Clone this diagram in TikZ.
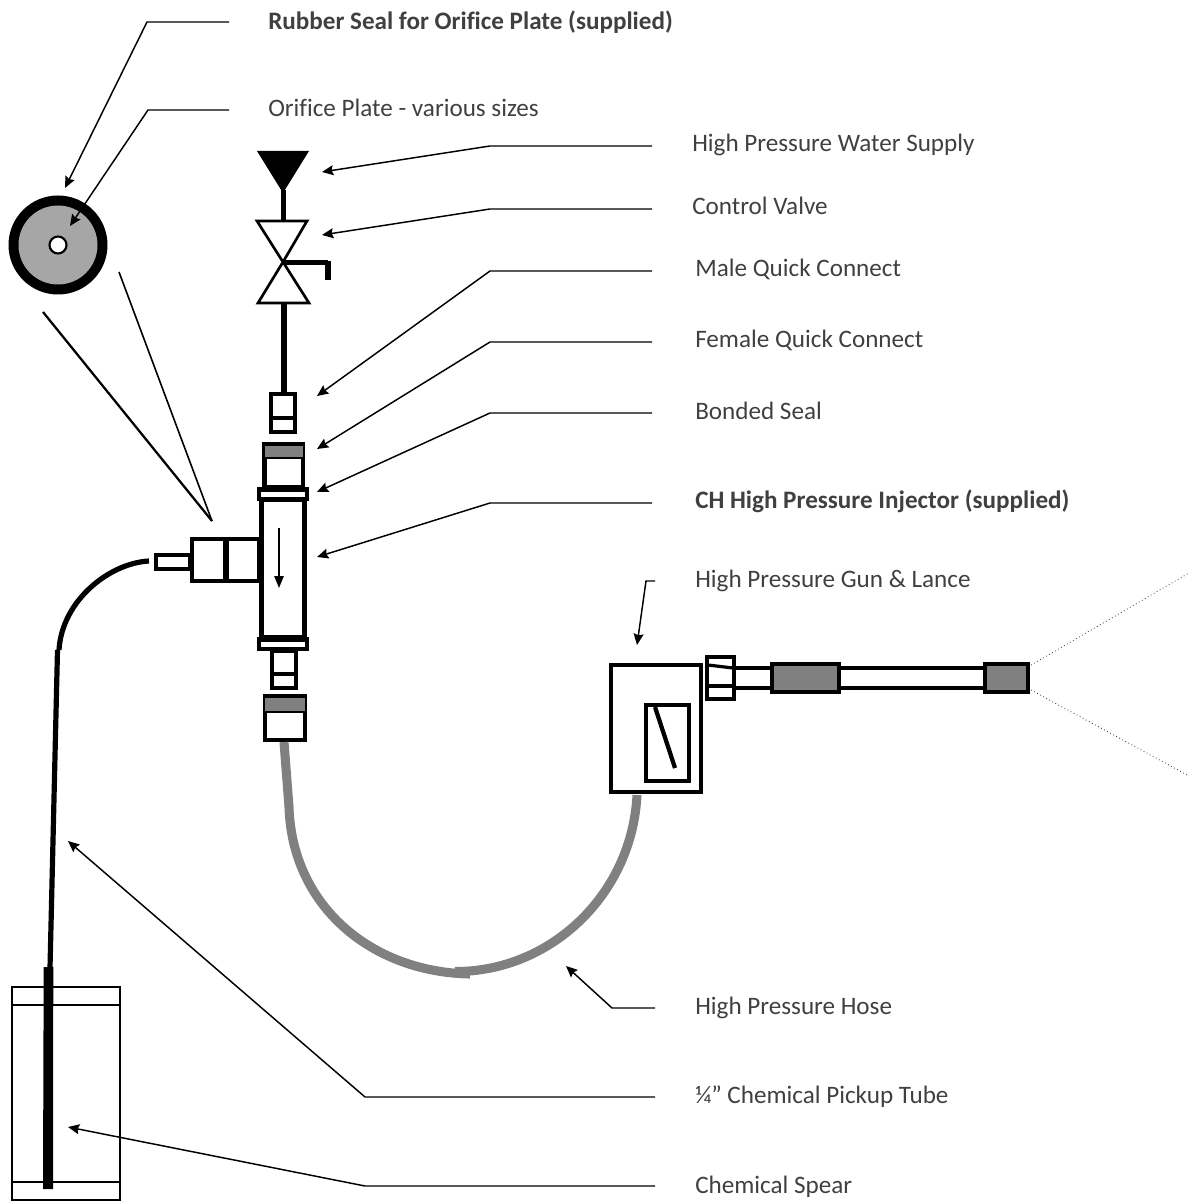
\documentclass[tikz,border=0pt]{standalone}
\usepackage{fontspec}
\usepackage{xcolor}
\setmainfont[Ligatures=NoCommon]{Carlito}
\usetikzlibrary{arrows.meta, positioning, calc}
\definecolor{lblgray}{HTML}{404040}
\definecolor{partgray}{HTML}{808080}
\definecolor{discgray}{HTML}{A6A6A6}
\tikzset{
  leader/.style={line width=1.1pt, -{Stealth[length=8.5pt, width=7.5pt, inset=1.2pt]}},
  lbl/.style={anchor=base west, inner sep=0pt, text=lblgray, font=\fontsize{18.85}{22}\selectfont},
  part/.style={draw=black, line width=3.4pt, fill=white, line join=miter},
  sleeve/.style={draw=black, line width=3.3pt, fill=partgray},
  hose/.style={draw=partgray, line width=6.8pt},
  tube/.style={draw=black, line width=3.9pt},
}
\begin{document}
\begin{tikzpicture}[x=0.75pt, y=-0.75pt]
  \useasboundingbox (0,0) rectangle (1189,1201);
  % Orifice plate
  \fill[black] (58,245) circle (49.5);
  \fill[discgray] (58,245) circle (39.5);
  \draw[fill=white, line width=1.6pt] (58,245) circle (8.5);
  \draw[line width=1.7pt] (43,312) -- (212,521);
  \draw[line width=1.2pt] (119,272) -- (212,521);
  % Water supply and valve
  \fill[black] (257,151) -- (309,151) -- (283,193) -- cycle;
  \draw[line width=3.9pt] (283.5,190) -- (283.5,221);
  \draw[line width=2pt, fill=white] (257,221) -- (307,221) -- (283,262) -- (309,303) -- (258,303) -- (283,262) -- cycle;
  \draw[line width=3.2pt] (283,262.5) -- (328,262.5);
  \draw[line width=3.9pt] (328,261) -- (328,280.5);
  \draw[line width=3.9pt] (284,303) -- (284,393);
  % Upper quick connect
  \draw[part] (271,394) rectangle (295,432);
  \draw[line width=3.6pt] (271,418) -- (295,418);
  \draw[part] (264.5,444) rectangle (303,487);
  \fill[partgray] (264.5,444) rectangle (303,457);
  \draw[line width=3.4pt] (262.5,444) -- (305,444);
  \draw[line width=2.2pt] (263,458) -- (304,458);
  % Injector body with seals
  \draw[part] (261.3,500) rectangle (304.7,637);
  \draw[part] (259,489.5) rectangle (307,499);
  \draw[part] (259,639.5) rectangle (307,649);
  \draw[line width=1.3pt, -{Stealth[length=9pt, width=7pt, inset=0pt]}] (279,528) -- (279,588);
  % Side inlet
  \draw[part] (192,539) rectangle (259,581);
  \draw[line width=4.6pt] (226,539) -- (226,581);
  \draw[part] (156,555) rectangle (190,569);
  % Lower quick connect
  \draw[part] (272,651) rectangle (296,688);
  \draw[line width=3.2pt] (272,674) -- (296,674);
  \draw[part] (265,696) rectangle (305,740);
  \fill[partgray] (265,696) rectangle (305,711);
  \draw[line width=3.4pt] (263,696) -- (307,696);
  \draw[line width=2.2pt] (265,712) -- (305,712);
  % Hose
  \draw[hose] (284,742) -- (289,807)
    .. controls (292,905) and (370,972) .. (470,974);
  \draw[hose] (455,971.5) .. controls (550,972) and (632,895) .. (637,795);
  % Gun and lance
  \draw[part] (611,665) rectangle (701,792);
  \draw[part] (646,705) rectangle (689,781);
  \draw[line width=3.2pt] (655,707) -- (675,768);
  \draw[line width=3.4pt] (736,668) -- (985,668);
  \draw[line width=3.4pt] (736,688) -- (985,688);
  \draw[part] (707,657) rectangle (734,699);
  \draw[line width=2.4pt] (708,665) -- (733,668);
  \draw[line width=2.8pt] (708,686) -- (733,686);
  \draw[sleeve] (772,664) rectangle (839,692);
  \draw[sleeve] (985,664) rectangle (1028,692);
  \draw[line width=0.6pt, dotted, black!80] (1031,665) -- (1189,573);
  \draw[line width=0.6pt, dotted, black!80] (1031,690) -- (1189,776);
  % Chemical pickup tube
  \draw[tube] (149,561) .. controls (110,563) and (62,600) .. (59,650);
  \draw[tube] (57.5,650) -- (50,968);
  % Chemical container and spear
  \draw[line width=1.6pt] (12,987) -- (120,987) -- (120,1200) -- (12,1200) -- cycle;
  \draw[line width=1.6pt] (12,1005) -- (120,1005);
  \draw[line width=1.6pt] (12,1182) -- (120,1182);
  \fill[black] (43.7,967) -- (53.3,967) -- (53,1189) -- (43,1189) -- cycle;
  % Labels with their leader lines
  \foreach \nm/\lx/\ly/\txt/\sx/\sy/\mx/\tx/\ty in {
    orifice/268/117/{Orifice Plate - various sizes}/229/110/148/70/226,
    water/692/152/{High Pressure Water Supply}/652/146/490/322/172,
    valve/692/215/{Control Valve}/652/209/490/322/235,
    male/695/277/{Male Quick Connect}/652/271/490/317/396,
    female/695/348/{Female Quick Connect}/652/342/490/317/449,
    bonded/695/419/{Bonded Seal}/652/413/490/317/492,
    gun/695/587/{High Pressure Gun \& Lance}/655/581/646/637/645,
    hoselbl/695/1014/{High Pressure Hose}/655/1008/612/566/966,
    pickup/695/1103/{¼” Chemical Pickup Tube}/655/1097/365/68/841,
    spear/695/1193/{Chemical Spear}/655/1186/365/68/1127} {
    \node[lbl] (\nm) at (\lx,\ly) {\txt};
    \coordinate (\nm start) at (\sx,\sy);
    \coordinate (\nm tip) at (\tx,\ty);
    \draw[leader] (\nm start) -- (\mx,\sy) -- (\nm tip);
  }
  % Bold labels
  \foreach \nm/\lx/\ly/\txt/\sx/\sy/\mx/\tx/\ty in {
    rubber/268/30/{Rubber Seal for Orifice Plate (supplied)}/229/22/147/65/188,
    injector/695/508/{CH High Pressure Injector (supplied)}/652/503/490/317/557} {
    \node[lbl, font=\fontsize{18.85}{22}\selectfont\bfseries] (\nm) at (\lx,\ly) {\txt};
    \coordinate (\nm start) at (\sx,\sy);
    \coordinate (\nm tip) at (\tx,\ty);
    \draw[leader] (\nm start) -- (\mx,\sy) -- (\nm tip);
  }
\end{tikzpicture}
\end{document}
